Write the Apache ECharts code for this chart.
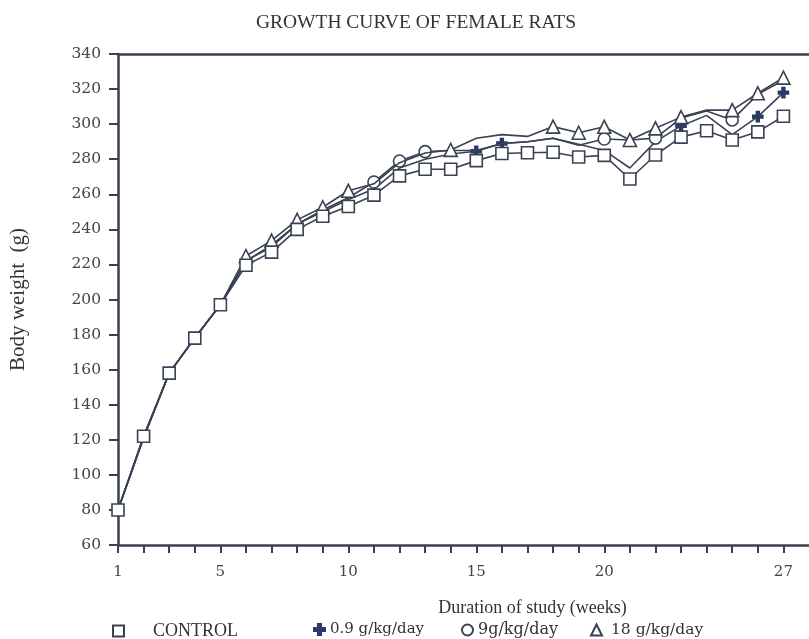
<!DOCTYPE html>
<html>
<head>
<meta charset="utf-8">
<script src="https://cdn.jsdelivr.net/npm/echarts@6/dist/echarts.min.js"></script>
<style>
  html, body { margin: 0; padding: 0; background: #fff; }
  #chart { width: 809px; height: 639px; }
</style>
</head>
<body>
<div id="chart"></div>
<script>
// Study weeks
const weeks = [1,2,3,4,5,6,7,8,9,10,11,12,13,14,15,16,17,18,19,20,21,22,23,24,25,26,27];

// Mean body weight (g) per group
const control = [80,122,158,178,197,219.5,227,240,247.5,253,259.5,270.5,274.3,274.3,279.2,283.3,283.7,284,281.3,282.2,268.7,282.4,292.6,296.2,291,295.6,304.5];
const dose09  = [80,121,158,178,197,222,230,243,250,257,263,275,280,283,284.5,289,290,292,288.5,285,275,290,299,305,294,304.3,318];
const dose9   = [80,121,158,178,197,222,231,243,251,258,267,279,284.3,285,285,289,290,292,288,291.5,291,292,303.5,307.5,302.4,317,325];
const dose18  = [80,122,158,178,197,224.8,233.6,245.4,252.6,262,266,278,283.5,285.3,292,294,293,298.6,295.1,298.5,291,297.6,304,308,308,317.6,326.5];

// Weeks at which each group's marker is drawn (others sit under neighbouring marks)
const controlMarks = weeks;
const dose09Marks  = [15,16,23,26,27];
const dose9Marks   = [11,12,13,20,22,25];
const dose18Marks  = [6,7,8,9,10,14,18,19,20,21,22,23,25,26,27];

// Axis tick labels
const xLabels = [1,5,10,15,20,27];
const yMin = 60, yMax = 340, yStep = 20;

const ink = '#3a4152';
const plusPath = 'path://M3.6,0H6.4V3.6H10V6.4H6.4V10H3.6V6.4H0V3.6H3.6Z';

function pts(values, marks) {
  return weeks.map((w, i) => {
    const item = { value: [w, values[i]] };
    if (marks.indexOf(w) < 0) item.symbol = 'none';
    return item;
  });
}

function lineSeries(name, values, marks, symbol, size, fill, z) {
  return {
    name: name,
    type: 'line',
    data: pts(values, marks),
    symbol: symbol,
    symbolSize: size,
    showAllSymbol: true,
    z: z,
    lineStyle: { color: ink, width: 1.6 },
    itemStyle: { color: fill, borderColor: fill === '#ffffff' ? ink : fill, borderWidth: 1.6 },
    emphasis: { disabled: true },
    animation: false
  };
}

const serif = 'Liberation Serif';
const labelFont = 'DejaVu Serif';

function legendAt(left, name, icon, gapWidth, font, size) {
  return {
    left: left,
    top: 617,
    itemWidth: 11,
    itemHeight: 11,
    selectedMode: false,
    data: [{ name: name, icon: icon }],
    formatter: '{g|}{t|' + name + '}',
    textStyle: {
      rich: {
        g: { width: gapWidth },
        t: { fontFamily: font, fontSize: size, color: '#333' }
      }
    }
  };
}

const chart = echarts.init(document.getElementById('chart'), null, { renderer: 'canvas' });
chart.setOption({
  backgroundColor: '#ffffff',
  animation: false,
  title: {
    text: 'GROWTH CURVE OF FEMALE RATS',
    left: 411,
    top: 8,
    textAlign: 'center',
    textStyle: { fontFamily: serif, fontSize: 19.5, fontWeight: 'normal', color: '#333' }
  },
  legend: [
    legendAt(107, 'CONTROL', 'rect', 24, serif, 18),
    legendAt(308, '0.9 g/kg/day', plusPath, 0, labelFont, 15),
    legendAt(456, '9g/kg/day', 'circle', 0, labelFont, 16),
    legendAt(585, '18 g/kg/day', 'triangle', 4, labelFont, 15.5)
  ],
  grid: { left: 116, right: 0, top: 54, bottom: 94, containLabel: false },
  xAxis: [
    {
      type: 'value',
      min: 1,
      max: 28,
      interval: 1,
      name: 'Duration of study (weeks)',
      nameLocation: 'middle',
      nameGap: 54,
      nameTextStyle: { fontFamily: serif, fontSize: 18, color: '#333', padding: [0, 0, 0, 138] },
      axisLine: { onZero: false, lineStyle: { color: ink, width: 2.5 } },
      axisTick: { show: true, length: 8, lineStyle: { color: ink, width: 2 } },
      axisLabel: {
        margin: 20,
        fontFamily: labelFont,
        fontSize: 15,
        color: '#444',
        showMaxLabel: false,
        formatter: v => (xLabels.indexOf(v) >= 0 ? String(v) : '')
      },
      splitLine: { show: false }
    },
    {
      type: 'value',
      position: 'top',
      min: 1,
      max: 28,
      axisLine: { lineStyle: { color: ink, width: 2.5 } },
      axisTick: { show: false },
      axisLabel: { show: false },
      splitLine: { show: false }
    }
  ],
  yAxis: {
    type: 'value',
    min: yMin,
    max: yMax,
    interval: yStep,
    name: 'Body weight  (g)',
    nameLocation: 'middle',
    nameGap: 89,
    nameTextStyle: { fontFamily: serif, fontSize: 21, color: '#333' },
    axisLine: { show: true, onZero: false, lineStyle: { color: ink, width: 2.5 } },
    axisTick: { show: true, length: 9, lineStyle: { color: ink, width: 2 } },
    axisLabel: { margin: 17, fontFamily: labelFont, fontSize: 15.5, color: '#444' },
    splitLine: { show: false }
  },
  series: [
    lineSeries('0.9 g/kg/day', dose09, dose09Marks, plusPath, 10, '#2b3a66', 2),
    lineSeries('9g/kg/day', dose9, dose9Marks, 'circle', 12, '#ffffff', 3),
    lineSeries('18 g/kg/day', dose18, dose18Marks, 'triangle', 13, '#ffffff', 4),
    lineSeries('CONTROL', control, controlMarks, 'rect', 12, '#ffffff', 5)
  ]
});
</script>
</body>
</html>
